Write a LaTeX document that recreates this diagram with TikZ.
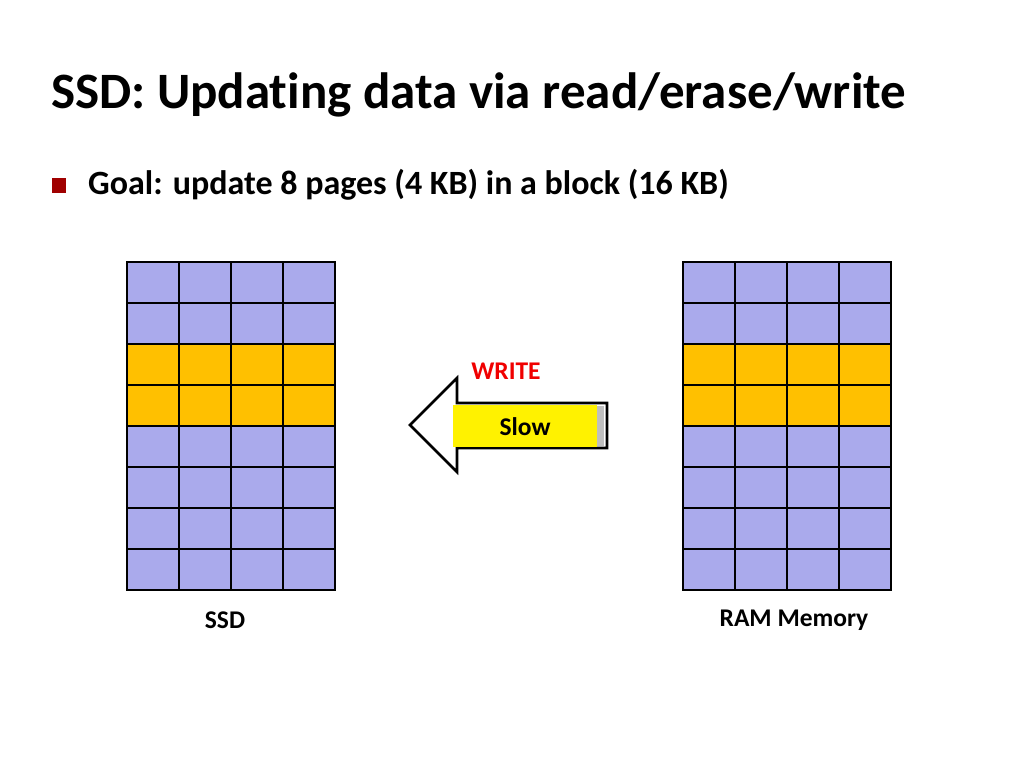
\documentclass[tikz,border=0pt]{standalone}
\usepackage{fontspec}
\setmainfont{Carlito}[RawFeature=-liga]
\definecolor{lav}{HTML}{AAAAEC}
\definecolor{gold}{HTML}{FFC000}
\definecolor{bulletred}{HTML}{A00000}
\definecolor{writered}{HTML}{F00000}
\tikzset{
  lbl/.style={font=\bfseries\fontsize{25.5}{30}\selectfont, inner sep=0pt},
  gridline/.style={draw=black, line width=1.3pt},
}
\begin{document}
\begin{tikzpicture}[x=1pt,y=-1pt]
\useasboundingbox (0,0) rectangle (1024,768);
% title
\node[anchor=west, inner sep=0pt, font=\bfseries\fontsize{51}{56}\selectfont] (title) at (51,95) {SSD: Updating data via read/erase/write};
% bullet
\fill[bulletred] (52,178) rectangle (66,193);
\node[anchor=west, inner sep=0pt, font=\bfseries\fontsize{34}{38}\selectfont] (goal) at (88,185) {Goal: update 8 pages (4 KB) in a block (16 KB)};
% grids
\foreach \gx in {127,683}{
  \foreach \r in {0,...,7}{
    \ifnum\r=2 \def\fc{gold}\else\ifnum\r=3 \def\fc{gold}\else\def\fc{lav}\fi\fi
    \path[fill=\fc] (\gx,{262+\r*41}) rectangle ++(208,41);
  }
  \foreach \c in {0,...,4}{
    \draw[gridline] ({\gx+\c*52},262) -- ++(0,328);
  }
  \foreach \r in {0,...,8}{
    \draw[gridline] (\gx,{262+\r*41}) -- ++(208,0);
  }
  \draw[gridline] (\gx,262) rectangle ++(208,328);
}
\node[lbl] (ssdlbl) at (225,620) {SSD};
\node[lbl] (ramlbl) at (794,620) {RAM Memory};
% arrow
\draw[line width=2.6pt, fill=white, line join=miter]
  (410,425) -- (457,378) -- (457,403) -- (607,403) -- (607,448) -- (457,448) -- (457,472) -- cycle;
\fill[black!25] (597,406) rectangle (604,446);
\node[fill=yellow, minimum width=144pt, minimum height=42pt, inner sep=0pt, anchor=west] (slowbox) at (453,426) {};
\node[lbl] (slow) at (525,427) {Slow};
\node[lbl, text=writered] (write) at (506,371) {WRITE};
\end{tikzpicture}
\end{document}
